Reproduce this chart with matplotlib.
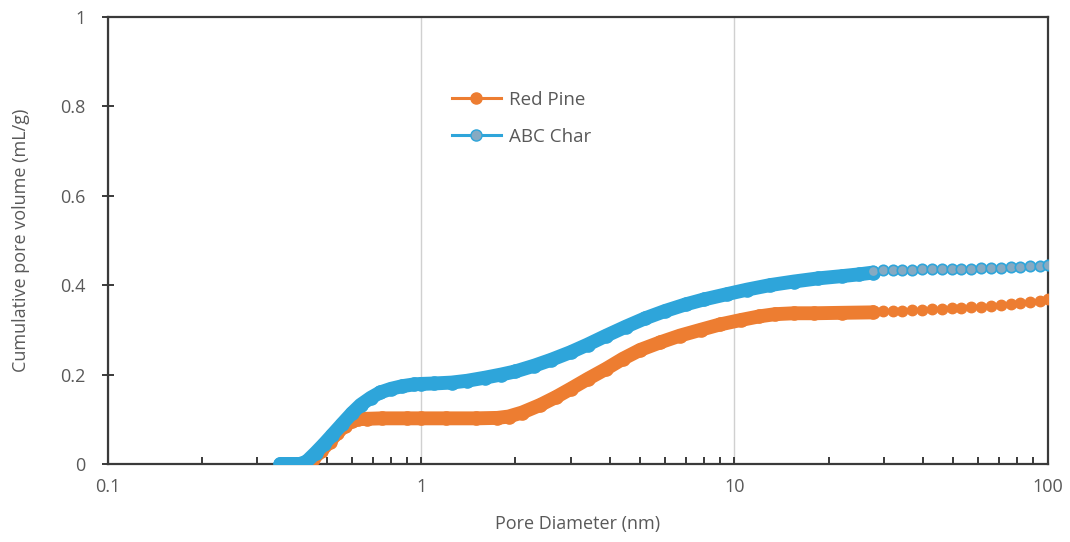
import numpy as np
import matplotlib
matplotlib.use('Agg')
import matplotlib.pyplot as plt
from matplotlib.ticker import LogLocator, FixedLocator, FuncFormatter

plt.rcParams['font.family'] = ['Open Sans', 'DejaVu Sans']

# dense part of each curve (pore diameter nm, cumulative volume mL/g)
abc_x = [0.355, 0.38, 0.41, 0.43, 0.46, 0.49, 0.52, 0.56, 0.60, 0.64, 0.69, 0.74, 0.80, 0.87,
         0.95, 1.0, 1.1, 1.25, 1.4, 1.6, 1.8, 2.0, 2.3, 2.6, 3.0, 3.4, 3.9, 4.5, 5.2, 6.0,
         7.0, 8.0, 9.5, 11.0, 13.0, 15.5, 18.5, 22.0, 25.0, 27.7]
abc_y = [0.0, 0.0, 0.0, 0.005, 0.025, 0.045, 0.065, 0.09, 0.113, 0.132, 0.148, 0.16, 0.168, 0.174,
         0.178, 0.179, 0.18, 0.182, 0.186, 0.193, 0.2, 0.207, 0.22, 0.233, 0.25, 0.267, 0.287, 0.307, 0.326, 0.342,
         0.357, 0.368, 0.38, 0.39, 0.4, 0.408, 0.415, 0.42, 0.424, 0.428]

pine_x = [0.41, 0.43, 0.45, 0.48, 0.51, 0.54, 0.57, 0.60, 0.63, 0.67, 0.75, 0.9, 1.0, 1.2,
          1.5, 1.75, 1.9, 2.1, 2.4, 2.7, 3.0, 3.4, 3.9, 4.4, 5.0, 5.8, 6.7, 7.8, 9.0, 10.5,
          12.0, 13.5, 15.5, 18.0, 22.0, 27.7]
pine_y = [0.0, 0.0, 0.01, 0.03, 0.05, 0.07, 0.085, 0.096, 0.1, 0.101, 0.102, 0.102, 0.102, 0.102,
          0.102, 0.103, 0.106, 0.115, 0.132, 0.15, 0.168, 0.19, 0.213, 0.235, 0.255, 0.272, 0.287, 0.3, 0.312, 0.322,
          0.33, 0.335, 0.337, 0.337, 0.338, 0.339]

# sparse tail points
tail_x = [27.7, 29.8, 32.0, 34.4, 37.0, 39.8, 42.8, 46.0, 49.4, 53.1, 57.1, 61.4, 66.0,
          70.9, 76.2, 81.9, 88.1, 94.7, 100.0]
abc_tail = [0.432, 0.433, 0.433, 0.434, 0.434, 0.435, 0.435, 0.436, 0.436, 0.437, 0.437, 0.438,
            0.439, 0.439, 0.440, 0.441, 0.442, 0.443, 0.445]
pine_tail = [0.341, 0.342, 0.343, 0.343, 0.344, 0.345, 0.346, 0.347, 0.348, 0.349, 0.350, 0.352,
             0.354, 0.356, 0.358, 0.360, 0.362, 0.365, 0.368]

orange = '#ED7D31'
blue = '#2EA5DA'
blue_face = '#86AAC2'
grey_txt = '#595959'
spine_c = '#3a3a3a'

fig = plt.figure(figsize=(10.7, 5.42), dpi=100)
ax = fig.add_axes([0.101, 0.144, 0.878, 0.825])

# dense parts: thick line + overlapping markers
ax.plot(pine_x, pine_y, color=orange, lw=10, solid_capstyle='round', zorder=3)
ax.plot(pine_x, pine_y, 'o', color=orange, ms=9.5, zorder=3)
ax.plot(abc_x, abc_y, color=blue, lw=10, solid_capstyle='round', zorder=4)
ax.plot(abc_x, abc_y, 'o', color=blue, ms=9.5, zorder=4)

ax.plot(tail_x, pine_tail, 'o-', color=orange, lw=2, ms=7.5, mec=orange, zorder=3)
ax.plot(tail_x, abc_tail, 'o-', color=blue, lw=2, ms=7.5, mfc=blue_face, mec=blue, mew=1.2, zorder=4)

# legend handles
h1, = ax.plot([], [], '-o', color=orange, lw=2.2, ms=8, label='Red Pine')
h2, = ax.plot([], [], '-o', color=blue, lw=2.2, ms=8, mfc=blue_face, mec=blue, label='ABC Char')
leg = ax.legend(handles=[h1, h2], loc='upper left', bbox_to_anchor=(0.348, 0.872),
                frameon=False, fontsize=13.5, handlelength=2.6, labelspacing=1.0, handletextpad=0.45)
for t in leg.get_texts():
    t.set_color(grey_txt)

ax.set_xscale('log')
ax.set_xlim(0.1, 100)
ax.set_ylim(0, 1)
ax.xaxis.set_major_locator(FixedLocator([0.1, 1, 10, 100]))
ax.xaxis.set_major_formatter(FuncFormatter(lambda v, p: '%g' % v))
ax.xaxis.set_minor_locator(LogLocator(base=10, subs=np.arange(2, 10)))
ax.xaxis.set_minor_formatter(FuncFormatter(lambda v, p: ''))
ax.set_yticks([0, 0.2, 0.4, 0.6, 0.8, 1.0])
ax.yaxis.set_major_formatter(FuncFormatter(lambda v, p: '%g' % v))

ax.grid(axis='x', which='major', color='#d0d0d0', lw=1)
ax.set_axisbelow(True)

for s in ax.spines.values():
    s.set_color(spine_c)
    s.set_linewidth(1.6)

ax.tick_params(axis='x', which='major', direction='in', length=5, width=1.4, color=spine_c,
               labelsize=13, labelcolor=grey_txt, pad=10)
ax.tick_params(axis='x', which='minor', direction='in', length=5, width=1.4, color=spine_c)
ax.tick_params(axis='y', which='major', direction='inout', length=8, width=1.4, color=spine_c,
               labelsize=13, labelcolor=grey_txt, pad=12)

ax.set_xlabel('Pore Diameter (nm)', fontsize=13, color=grey_txt, labelpad=14)
ax.set_ylabel('Cumulative pore volume (mL/g)', fontsize=13, color=grey_txt, labelpad=22)

fig.savefig('out.png', dpi=100)
